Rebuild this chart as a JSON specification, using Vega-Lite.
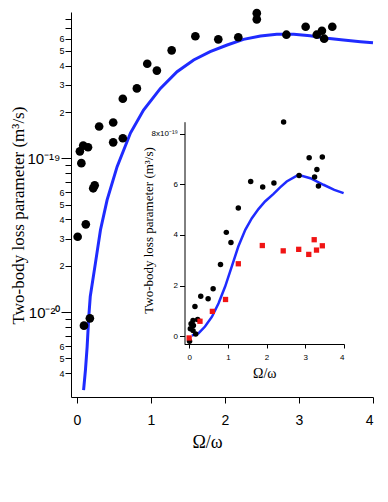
{
  "$schema": "https://vega.github.io/schema/vega-lite/v6.json",
  "width": 302,
  "height": 385,
  "autosize": {"type": "none"},
  "padding": {"left": 71, "top": 12, "right": 15, "bottom": 105},
  "background": "white",
  "config": {
    "view": {"stroke": null},
    "axis": {"grid": false, "domainColor": "black", "tickColor": "black", "labelColor": "black", "titleColor": "black", "labelFont": "Liberation Sans", "titleFont": "Liberation Serif", "titleFontWeight": "normal", "domainWidth": 1, "tickWidth": 1}
  },
  "datasets": {
    "mainPts": [
      {"r": 0.01, "k": 3.09e-20}, {"r": 0.04, "k": 1.11e-19}, {"r": 0.06, "k": 0.93e-19},
      {"r": 0.085, "k": 1.21e-19}, {"r": 0.095, "k": 8.15e-21}, {"r": 0.12, "k": 3.72e-20},
      {"r": 0.15, "k": 1.18e-19}, {"r": 0.175, "k": 9.1e-21}, {"r": 0.22, "k": 6.38e-20},
      {"r": 0.24, "k": 6.67e-20}, {"r": 0.30, "k": 1.61e-19}, {"r": 0.49, "k": 1.71e-19},
      {"r": 0.49, "k": 1.27e-19}, {"r": 0.62, "k": 2.44e-19}, {"r": 0.62, "k": 1.35e-19},
      {"r": 0.81, "k": 2.85e-19}, {"r": 0.95, "k": 4.12e-19}, {"r": 1.08, "k": 3.72e-19},
      {"r": 1.28, "k": 5.04e-19}, {"r": 1.60, "k": 6.22e-19}, {"r": 1.91, "k": 5.94e-19},
      {"r": 2.18, "k": 6.13e-19}, {"r": 2.43, "k": 8.8e-19}, {"r": 2.43, "k": 8.02e-19},
      {"r": 2.83, "k": 6.37e-19}, {"r": 3.09, "k": 7.18e-19}, {"r": 3.24, "k": 6.37e-19},
      {"r": 3.31, "k": 6.76e-19}, {"r": 3.34, "k": 6.0e-19}, {"r": 3.45, "k": 7.18e-19}
    ],
    "mainFit": [
      {"r": 0.09, "k": 3.1e-21}, {"r": 0.115, "k": 4.19e-21}, {"r": 0.138, "k": 5.94e-21},
      {"r": 0.16, "k": 9.3e-21}, {"r": 0.18, "k": 1.26e-20}, {"r": 0.25, "k": 2.08e-20},
      {"r": 0.318, "k": 3.42e-20}, {"r": 0.408, "k": 5.36e-20}, {"r": 0.543, "k": 8.82e-20},
      {"r": 0.723, "k": 1.46e-19}, {"r": 0.90, "k": 2.06e-19}, {"r": 1.128, "k": 2.85e-19},
      {"r": 1.353, "k": 3.66e-19}, {"r": 1.577, "k": 4.36e-19}, {"r": 1.80, "k": 4.94e-19},
      {"r": 2.03, "k": 5.46e-19}, {"r": 2.25, "k": 5.94e-19}, {"r": 2.48, "k": 6.25e-19},
      {"r": 2.70, "k": 6.41e-19}, {"r": 2.93, "k": 6.41e-19}, {"r": 3.15, "k": 6.28e-19},
      {"r": 3.38, "k": 6.04e-19}, {"r": 3.60, "k": 5.89e-19}, {"r": 3.83, "k": 5.74e-19},
      {"r": 4.0, "k": 5.65e-19}
    ],
    "insetPts": [
      {"r": 0.01, "k": -0.2}, {"r": 0.17, "k": 0.09}, {"r": 0.10, "k": 0.22}, {"r": 0.03, "k": 0.29},
      {"r": 0.11, "k": 0.42}, {"r": 0.05, "k": 0.49}, {"r": 0.10, "k": 0.62}, {"r": 0.22, "k": 0.66},
      {"r": 0.15, "k": 1.17}, {"r": 0.30, "k": 1.58}, {"r": 0.49, "k": 1.48}, {"r": 0.62, "k": 1.87},
      {"r": 0.81, "k": 2.83}, {"r": 0.96, "k": 4.10}, {"r": 1.08, "k": 3.70}, {"r": 1.27, "k": 5.06},
      {"r": 1.59, "k": 6.11}, {"r": 1.90, "k": 5.89}, {"r": 2.19, "k": 6.05}, {"r": 2.44, "k": 8.46},
      {"r": 2.84, "k": 6.35}, {"r": 3.10, "k": 7.05}, {"r": 3.24, "k": 6.29}, {"r": 3.30, "k": 6.58},
      {"r": 3.34, "k": 5.93}, {"r": 3.44, "k": 7.08}
    ],
    "insetRed": [
      {"r": 0.0, "k": -0.07}, {"r": 0.28, "k": 0.59}, {"r": 0.60, "k": 0.98}, {"r": 0.94, "k": 1.45},
      {"r": 1.27, "k": 2.86}, {"r": 1.89, "k": 3.58}, {"r": 2.43, "k": 3.37}, {"r": 2.83, "k": 3.43},
      {"r": 3.09, "k": 3.23}, {"r": 3.23, "k": 3.81}, {"r": 3.29, "k": 3.40}, {"r": 3.44, "k": 3.57}
    ],
    "insetFit": [
      {"r": 0.07, "k": 0.03}, {"r": 0.24, "k": 0.11}, {"r": 0.41, "k": 0.38}, {"r": 0.59, "k": 0.77},
      {"r": 0.76, "k": 1.30}, {"r": 0.93, "k": 1.96}, {"r": 1.10, "k": 2.75}, {"r": 1.27, "k": 3.54},
      {"r": 1.45, "k": 4.20}, {"r": 1.62, "k": 4.66}, {"r": 1.79, "k": 5.02}, {"r": 1.96, "k": 5.32},
      {"r": 2.18, "k": 5.62}, {"r": 2.35, "k": 5.88}, {"r": 2.52, "k": 6.11}, {"r": 2.82, "k": 6.37},
      {"r": 3.13, "k": 6.24}, {"r": 3.47, "k": 5.98}, {"r": 3.75, "k": 5.78}, {"r": 3.99, "k": 5.65}
    ]
  },
  "layer": [
    {
      "layer": [
        {
          "data": {"name": "mainFit"},
          "mark": {"type": "line", "color": "#1f2bff", "strokeWidth": 3},
          "encoding": {
            "x": {"field": "r", "type": "quantitative",
              "scale": {"domain": [-0.08, 4], "nice": false, "zero": false},
              "axis": {"title": "Ω/ω", "values": [0, 1, 2, 3, 4], "format": "d", "labelFontSize": 14, "tickSize": 6, "labelPadding": 10,
                "titleFontSize": 18, "titleX": 136, "titleY": 45, "titleBaseline": "middle"}},
            "y": {"field": "k", "type": "quantitative",
              "scale": {"type": "log", "domain": [2.8e-21, 8.95e-19], "nice": false, "zero": false},
              "axis": {"title": "Two-body loss parameter (m³/s)",
                "values": [4e-21, 5e-21, 6e-21, 7e-21, 8e-21, 9e-21, 1e-20, 2e-20, 3e-20, 4e-20, 5e-20, 6e-20, 7e-20, 8e-20, 9e-20, 1e-19, 2e-19, 3e-19, 4e-19, 5e-19, 6e-19, 7e-19, 8e-19, 9e-19],
                "labelExpr": "format(datum.value,'.0e') == '1e-19' ? '10⁻¹⁹' : format(datum.value,'.0e') == '1e-20' ? '10⁻²⁰' : (slice(format(datum.value,'.0e'),0,1) == '7' || slice(format(datum.value,'.0e'),0,1) == '8' || slice(format(datum.value,'.0e'),0,1) == '9') ? '' : slice(format(datum.value,'.0e'),0,1)",
                "labelFontSize": {"condition": {"test": "datum.value == 1e-19 || datum.value == 1e-20", "value": 15}, "value": 9},
                "tickSize": {"condition": {"test": "datum.value == 1e-19 || datum.value == 1e-20", "value": 10}, "value": 6},
                "labelPadding": 1, "labelOverlap": false,
                "titleFontSize": 17, "titleX": -53, "titleY": 203, "titleBaseline": "middle"}}
          }
        },
        {
          "data": {"name": "mainPts"},
          "mark": {"type": "circle", "color": "black", "opacity": 1, "size": 75},
          "encoding": {
            "x": {"field": "r", "type": "quantitative"},
            "y": {"field": "k", "type": "quantitative"}
          }
        }
      ]
    },
    {
      "layer": [
        {
          "data": {"name": "insetFit"},
          "mark": {"type": "line", "color": "#1f2bff", "strokeWidth": 2.5},
          "encoding": {
            "x": {"field": "r", "type": "quantitative",
              "scale": {"domain": [-0.12, 4], "range": [113.5, 273], "nice": false, "zero": false},
              "axis": {"orient": "bottom", "offset": -53, "title": "Ω/ω", "values": [0, 1, 2, 3, 4], "format": "d",
                "labelFontSize": 8, "tickSize": 4, "labelPadding": 5,
                "titleFontSize": 14, "titleY": 29, "titleBaseline": "middle"}},
            "y": {"field": "k", "type": "quantitative",
              "scale": {"domain": [-0.32, 8.47], "range": [332.3, 109.7], "nice": false, "zero": false},
              "axis": {"orient": "left", "offset": -113.5, "title": "Two-body loss parameter (m³/s)",
                "values": [0, 2, 4, 6, 8],
                "labelExpr": "datum.value == 8 ? '8x10⁻¹⁹' : datum.label",
                "labelFontSize": 8, "tickSize": 5, "labelPadding": 2,
                "titleFontSize": 13, "titleX": -36.5, "titleY": 218, "titleBaseline": "middle"}}
          }
        },
        {
          "data": {"name": "insetPts"},
          "mark": {"type": "circle", "color": "black", "opacity": 1, "size": 30},
          "encoding": {
            "x": {"field": "r", "type": "quantitative"},
            "y": {"field": "k", "type": "quantitative"}
          }
        },
        {
          "data": {"name": "insetRed"},
          "mark": {"type": "square", "color": "#f01414", "opacity": 1, "filled": true, "size": 28},
          "encoding": {
            "x": {"field": "r", "type": "quantitative"},
            "y": {"field": "k", "type": "quantitative"}
          }
        }
      ]
    }
  ],
  "resolve": {"scale": {"x": "independent", "y": "independent"}}
}
